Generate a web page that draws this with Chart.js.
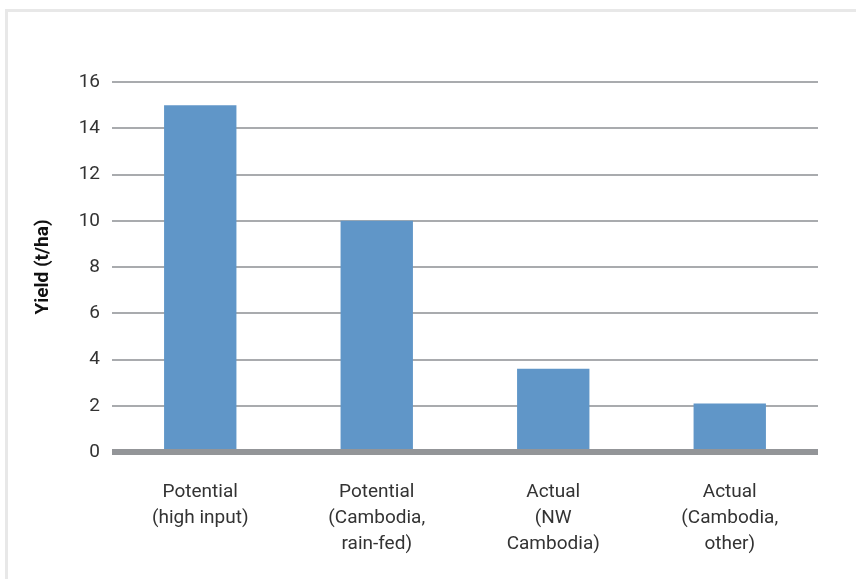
<!DOCTYPE html>
<html>
<head>
<meta charset="utf-8">
<script src="https://cdn.jsdelivr.net/npm/chart.js@4/dist/chart.umd.min.js"></script>
<style>
  html, body { margin: 0; padding: 0; background: #fff; }
  #wrap { position: relative; width: 856px; height: 579px; overflow: hidden; }
  #frame { position: absolute; left: 5px; top: 9px; width: 900px; height: 620px;
           border-top: 3px solid #e8e8e8; border-left: 3px solid #e8e8e8; box-sizing: border-box; }
  canvas { position: absolute; left: 0; top: 0; }
</style>
</head>
<body>
<div id="wrap">
  <div id="frame"></div>
  <canvas id="c" width="856" height="579"></canvas>
</div>
<script>
// Rice yield: potential vs actual
const categories = [
  ['Potential', '(high input)'],
  ['Potential', '(Cambodia,', 'rain-fed)'],
  ['Actual', '(NW', 'Cambodia)'],
  ['Actual', '(Cambodia,', 'other)']
];
const yieldValues = [15, 10, 3.6, 2.1];
const yTicks = [0, 2, 4, 6, 8, 10, 12, 14, 16];

const FONT = 'Roboto, "Liberation Sans", sans-serif';

new Chart(document.getElementById('c'), {
  type: 'bar',
  data: {
    labels: categories,
    datasets: [{
      data: yieldValues,
      backgroundColor: '#6096c8',
      borderWidth: 0,
      barPercentage: 0.41,
      categoryPercentage: 1.0
    }]
  },
  options: {
    responsive: false,
    animation: false,
    devicePixelRatio: 1,
    layout: { padding: { left: 0, right: 38, top: 82, bottom: 0 } },
    plugins: { legend: { display: false }, tooltip: { enabled: false } },
    scales: {
      x: {
        grid: { display: false, drawTicks: false },
        border: { display: false },
        ticks: {
          color: '#333',
          font: { family: FONT, size: 19, lineHeight: 1.37 },
          padding: 27,
          maxRotation: 0,
          autoSkip: false
        },
        afterFit: (s) => { s.height = 127; }
      },
      y: {
        min: 0, max: 16,
        afterBuildTicks: (s) => { s.ticks = yTicks.map(v => ({ value: v })); },
        grid: {
          drawTicks: false,
          color: (c) => c.tick && c.tick.value === 0 ? '#939598' : '#a9abae',
          lineWidth: (c) => c.tick && c.tick.value === 0 ? 6 : 2
        },
        border: { display: false },
        ticks: {
          color: '#333',
          font: { family: FONT, size: 19 },
          padding: 12
        },
        title: {
          display: true,
          text: 'Yield (t/ha)',
          color: '#111',
          font: { family: FONT, size: 19, weight: 'bold' },
          padding: { top: 32, bottom: 0 }
        },
        afterFit: (s) => { s.width = 112; }
      }
    }
  }
});
</script>
</body>
</html>
